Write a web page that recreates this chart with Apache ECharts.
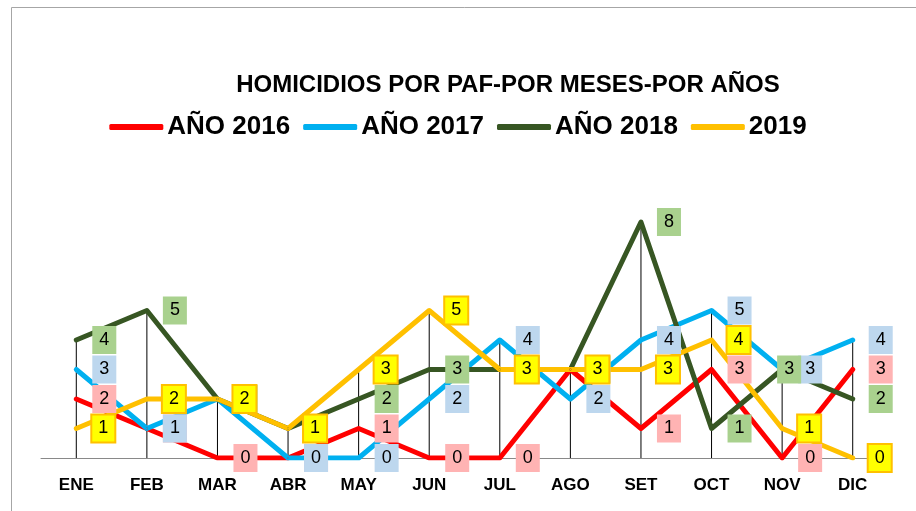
<!DOCTYPE html>
<html>
	<head>
		<meta charset="utf-8">
		<title>Homicidios por PAF</title>
		<script src="https://cdn.jsdelivr.net/npm/echarts@6/dist/echarts.min.js"></script>
		<style>
			html, body { margin: 0; padding: 0; background: #fff; }
		</style>
	</head>
	<body>
		<div id="main" style="width: 916px;height:511px;"></div>

		<script type="text/javascript">
			// datos
			var meses = ['ENE', 'FEB', 'MAR', 'ABR', 'MAY', 'JUN', 'JUL', 'AGO', 'SET', 'OCT', 'NOV', 'DIC'];
			var nombres = ['AÑO 2016', 'AÑO 2017', 'AÑO 2018', '2019'];
			var anio2016 = [2, 1, 0, 0, 1, 0, 0, 3, 1, 3, 0, 3];
			var anio2017 = [3, 1, 2, 0, 0, 2, 4, 2, 4, 5, 3, 4];
			var anio2018 = [4, 5, 2, 1, 2, 3, 3, 3, 8, 1, 3, 2];
			var anio2019 = [1, 2, 2, 1, 3, 5, 3, 3, 3, 4, 1, 0];

			var colores = ['#ff0000', '#00b0f0', '#375623', '#ffc000'];
			var fondos = ['#ffb3b3', '#bdd7ee', '#a9d18e', '#ffff00'];

			// lineas de caida: desde el valor maximo de cada mes hasta el eje
			var maximos = meses.map(function (m, i) {
				return Math.max(anio2016[i], anio2017[i], anio2018[i], anio2019[i]);
			});

			function serieLinea(nombre, valores, idx) {
				return {
					name: nombre,
					type: 'line',
					data: valores,
					showSymbol: false,
					itemStyle: { color: colores[idx] },
					lineStyle: { width: 5, color: colores[idx], cap: 'round', join: 'round' },
					z: 3 + idx
				};
			}

			// etiquetas en una serie aparte para que queden sobre todas las lineas
			function serieEtiquetas(valores, idx) {
				var datos = valores.map(function (v, i) {
					// en NOV la etiqueta verde queda a la izquierda de la azul
					if (idx === 2 && i === 10) {
						return { value: v, label: { offset: [-21, 0] } };
					}
					return v;
				});
				return {
					name: 'etiq' + idx,
					type: 'scatter',
					data: datos,
					symbolSize: 2,
					silent: true,
					itemStyle: { color: colores[idx], opacity: 1 },
					z: 10 + idx,
					label: {
						show: true,
						opacity: 1,
						position: 'right',
						distance: 15,
						color: '#000',
						fontSize: 18,
						fontFamily: 'Liberation Sans',
						lineHeight: 18,
						padding: idx === 3 ? [4, 6] : [5, 7],
						backgroundColor: fondos[idx],
						borderColor: idx === 3 ? '#ffc000' : 'transparent',
						borderWidth: idx === 3 ? 2 : 0
					}
				};
			}

			var myChart = echarts.init(document.getElementById('main'));
			var option = {
				animation: false,
				backgroundColor: '#fff',
				title: {
					text: 'HOMICIDIOS POR PAF-POR MESES-POR AÑOS',
					left: 503,
					textAlign: 'center',
					top: 68,
					textStyle: {
						fontFamily: 'Liberation Sans',
						fontWeight: 'bold',
						fontSize: 24,
						color: '#000'
					}
				},
				legend: {
					data: nombres,
					left: 'center',
					top: 109,
					icon: 'roundRect',
					itemWidth: 54,
					itemHeight: 6,
					itemGap: 13,
					textStyle: {
						fontFamily: 'Liberation Sans',
						fontWeight: 'bold',
						fontSize: 26,
						color: '#000',
						padding: [0, 0, 0, -1]
					}
				},
				graphic: [{
					type: 'rect',
					silent: true,
					shape: { x: 11.5, y: 7.5, width: 1000, height: 1000 },
					style: { fill: 'none', stroke: '#a6a6a6', lineWidth: 1 }
				}],
				grid: {
					left: 41,
					right: 28,
					top: 163,
					bottom: 53
				},
				xAxis: {
					type: 'category',
					data: meses,
					axisLine: { lineStyle: { color: '#898989', width: 1 } },
					axisTick: { show: false },
					axisLabel: {
						margin: 19,
						color: '#000',
						fontWeight: 'bold',
						fontSize: 17,
						fontFamily: 'Liberation Sans'
					}
				},
				yAxis: {
					type: 'value',
					min: 0,
					max: 10,
					show: false,
					splitLine: { show: false }
				},
				series: [
					{
						name: 'caida',
						type: 'bar',
						data: maximos,
						barWidth: 1,
						silent: true,
						z: 1,
						itemStyle: { color: '#000' }
					},
					serieLinea(nombres[0], anio2016, 0),
					serieLinea(nombres[1], anio2017, 1),
					serieLinea(nombres[2], anio2018, 2),
					serieLinea(nombres[3], anio2019, 3),
					serieEtiquetas(anio2016, 0),
					serieEtiquetas(anio2017, 1),
					serieEtiquetas(anio2018, 2),
					serieEtiquetas(anio2019, 3)
				]
			};

			myChart.setOption(option);
		</script>
	</body>
</html>
